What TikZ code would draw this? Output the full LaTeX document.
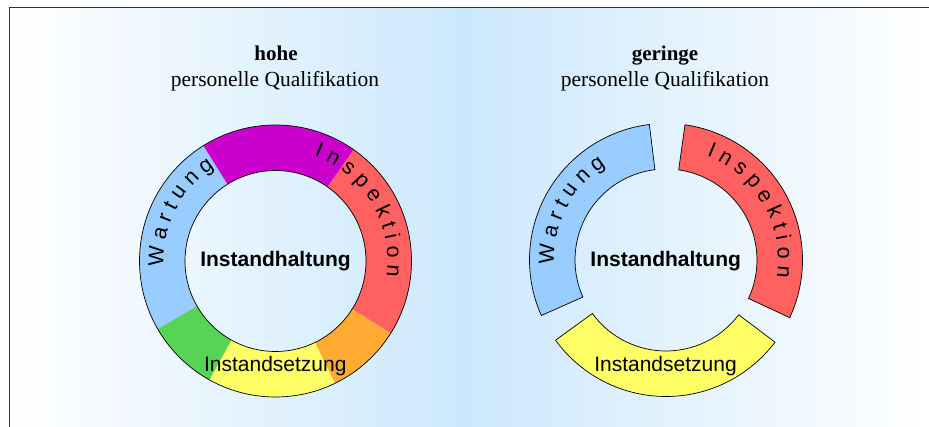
\documentclass[tikz,border=0pt]{standalone}
\usepackage{fontspec}
\setmainfont{Liberation Serif}
\setsansfont{Liberation Sans}
\usetikzlibrary{decorations.text}
\definecolor{bgblue}{HTML}{CCE8FC}
\definecolor{ringblue}{HTML}{99CCFF}
\definecolor{ringmag}{HTML}{CC00CC}
\definecolor{ringred}{HTML}{FF6060}
\definecolor{ringorange}{HTML}{FFAA33}
\definecolor{ringyellow}{HTML}{FFFF66}
\definecolor{ringgreen}{HTML}{55D455}
\newcommand\ringfont{\fontsize{21}{25}\selectfont\sffamily}
\newcommand\arcfont{\fontsize{21.5}{25}\selectfont\sffamily}
\newcommand\annseg[4]{% color, start, end, draw?
  \path[fill=#1,#4] (#2:\rout) arc[start angle=#2,end angle=#3,radius=\rout]
    -- (#3:\rin) arc[start angle=#3,end angle=#2,radius=\rin] -- cycle;}
\tikzset{
  titlebold/.style={anchor=base,font=\fontsize{21}{25}\selectfont\bfseries},
  titlereg/.style={anchor=base,font=\fontsize{21.5}{25}\selectfont},
  centerlabel/.style={anchor=base,font=\ringfont\bfseries},
  bottomlabel/.style={anchor=base,font=\ringfont},
  ringline/.style={draw=black,line width=0.7pt},
  arctext/.style={decorate,decoration={text along path,text align=center,
     text={|\arcfont|#1}}},
}
\begin{document}
\begin{tikzpicture}[x=1pt,y=1pt]
\useasboundingbox (0,0) rectangle (929,427);
% background
\fill[white] (0,0) rectangle (929,427);
\shade[left color=white,right color=bgblue] (9.5,0) rectangle (465,419.5);
\shade[left color=bgblue,right color=white] (465,0) rectangle (929,419.5);
\draw[line width=1.8pt,black!80] (9.5,0) -- (9.5,419.5) -- (929,419.5);

% titles
\node[titlebold] (t1) at (276,366.3) {hohe};
\node[titlereg] (t2) at (275,340.3) {personelle Qualifikation};
\node[titlebold] (t3) at (665,366.3) {geringe};
\node[titlereg] (t4) at (665,340.3) {personelle Qualifikation};

% left ring
\begin{scope}[shift={(275.5,166)}]
  \def\rout{136}\def\rin{90.5}
  \annseg{ringblue}{122}{210}{}
  \annseg{ringgreen}{210}{241}{}
  \annseg{ringyellow}{241}{296}{}
  \annseg{ringorange}{296}{328}{}
  \annseg{ringred}{328}{415}{}
  \annseg{ringmag}{415}{482}{}
  \draw[ringline] (0,0) circle[radius=\rout];
  \draw[ringline] (0,0) circle[radius=\rin];
  \path[arctext={W a r t u n g}] (211:112) arc[start angle=211,end angle=95,radius=112];
  \path[arctext={I n s p e k t i o n}] (89:112) arc[start angle=89,end angle=-27,radius=112];
  \node[centerlabel] (h1) at (0,-5.7) {Instandhaltung};
  \node[bottomlabel] (s1) at (-0.2,-110.7) {Instandsetzung};
\end{scope}

% right ring
\begin{scope}[shift={(666,167)}]
  \def\rout{136.5}\def\rin{91}
  \annseg{ringblue}{97}{204}{ringline}
  \annseg{ringred}{-25}{82}{ringline}
  \annseg{ringyellow}{216}{323}{ringline}
  \path[arctext={W a r t u n g}] (210.5:112) arc[start angle=210.5,end angle=94.5,radius=112];
  \path[arctext={I n s p e k t i o n}] (88:112) arc[start angle=88,end angle=-28,radius=112];
  \node[centerlabel] (h2) at (-0.3,-6.7) {Instandhaltung};
  \node[bottomlabel] (s2) at (-0.5,-111.7) {Instandsetzung};
\end{scope}
\end{tikzpicture}
\end{document}
